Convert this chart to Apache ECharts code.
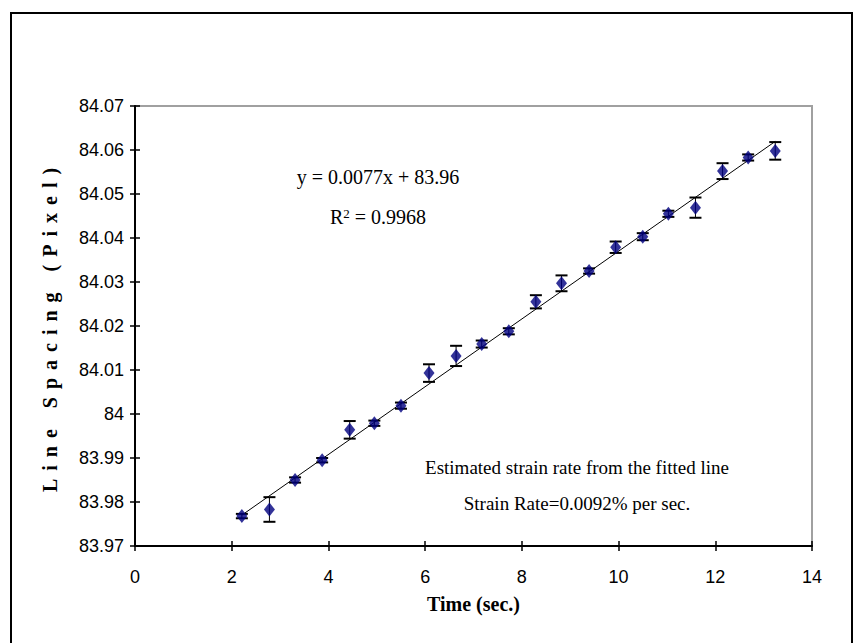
<!DOCTYPE html>
<html>
<head>
<meta charset="utf-8">
<title>Line Spacing vs Time</title>
<script src="https://cdn.jsdelivr.net/npm/echarts@6/dist/echarts.min.js"></script>
<style>
  html, body { margin: 0; padding: 0; background: #fff; }
  #chart { width: 858px; height: 643px; }
</style>
</head>
<body>
<div id="chart"></div>
<script>
// Measured line spacing over time, with error bar half-widths
const timeSec = [2.21, 2.78, 3.31, 3.87, 4.44, 4.95, 5.50, 6.08, 6.64, 7.17, 7.73,
                 8.29, 8.82, 9.39, 9.94, 10.50, 11.03, 11.59, 12.15, 12.68, 13.24];
const spacingPx = [83.9768, 83.9783, 83.9850, 83.9895, 83.9964, 83.9979, 84.0019, 84.0093,
                   84.0132, 84.0159, 84.0188, 84.0255, 84.0297, 84.0325, 84.0379, 84.0403,
                   84.0455, 84.0469, 84.0552, 84.0583, 84.0598];
const errorPx = [0.0005, 0.0028, 0.0006, 0.0005, 0.0020, 0.0006, 0.0007, 0.0020,
                 0.0023, 0.0008, 0.0007, 0.0015, 0.0018, 0.0006, 0.0013, 0.0008,
                 0.0007, 0.0023, 0.0018, 0.0007, 0.0020];

// Linear fit: y = 0.0077x + 83.96
const fitSlope = 0.0077;
const fitIntercept = 83.96;
const fitLabel = 'y = 0.0077x + 83.96';
const r2Label = '0.9968';
const noteLines = ['Estimated strain rate from the fitted line', 'Strain Rate=0.0092% per sec.'];
const xTitle = 'Time (sec.)';
const yTitle = 'Line Spacing (Pixel)';

const xTickInterval = 2;
const yTickInterval = 0.01;

const chart = echarts.init(document.getElementById('chart'), null, { renderer: 'svg' });

const tStart = timeSec[0];
const tEnd = timeSec[timeSec.length - 1];
const fitData = [[tStart, fitSlope * tStart + fitIntercept], [tEnd, fitSlope * tEnd + fitIntercept]];
const pointData = timeSec.map((t, i) => [t, spacingPx[i]]);
const errData = timeSec.map((t, i) => [t, spacingPx[i], errorPx[i]]);

const serif = 'Liberation Serif, serif';
const sans = 'Liberation Sans, sans-serif';

const baseX = { type: 'value', min: 0, max: 14, interval: xTickInterval, gridIndex: 0 };
const baseY = { type: 'value', min: 83.97, max: 84.07, interval: yTickInterval, gridIndex: 0 };

chart.setOption({
  animation: false,
  backgroundColor: '#fff',
  grid: {
    left: 135, right: 46, top: 106, bottom: 97,
    show: true, borderColor: '#a0a0a0', borderWidth: 2, backgroundColor: '#fff'
  },
  xAxis: [
    Object.assign({}, baseX, {
      position: 'bottom',
      axisLine: { show: true, lineStyle: { color: '#000', width: 2 } },
      axisTick: { show: true, inside: false, length: 5, lineStyle: { color: '#000', width: 1.5 } },
      axisLabel: { show: true, margin: 22, fontFamily: sans, fontSize: 18, color: '#000' },
      splitLine: { show: false },
      name: xTitle, nameLocation: 'middle', nameGap: 48,
      nameTextStyle: { fontFamily: serif, fontWeight: 'bold', fontSize: 20, color: '#000' }
    }),
    Object.assign({}, baseX, {
      position: 'bottom',
      axisLine: { show: false },
      axisTick: { show: true, inside: true, length: 5, lineStyle: { color: '#000', width: 1.5 } },
      axisLabel: { show: false },
      splitLine: { show: false }
    })
  ],
  yAxis: [
    Object.assign({}, baseY, {
      position: 'left',
      axisLine: { show: true, lineStyle: { color: '#000', width: 2 } },
      axisTick: { show: true, inside: false, length: 5, lineStyle: { color: '#000', width: 1.5 } },
      axisLabel: { show: true, margin: 11, fontFamily: sans, fontSize: 18, color: '#000' },
      splitLine: { show: false },
      name: yTitle, nameLocation: 'middle', nameGap: 75, nameRotate: 90,
      nameTextStyle: { fontFamily: serif, fontWeight: 'bold', fontSize: 20, color: '#000' }
    }),
    Object.assign({}, baseY, {
      position: 'left',
      axisLine: { show: false },
      axisTick: { show: true, inside: true, length: 5, lineStyle: { color: '#000', width: 1.5 } },
      axisLabel: { show: false },
      splitLine: { show: false }
    })
  ],
  series: [
    {
      name: 'fit',
      type: 'line',
      data: fitData,
      symbol: 'none',
      lineStyle: { color: '#000', width: 1 },
      z: 2
    },
    {
      name: 'error',
      type: 'custom',
      data: errData,
      encode: { x: 0, y: 1 },
      z: 3,
      renderItem: function (params, api) {
        const x = api.value(0), y = api.value(1), e = api.value(2);
        const top = api.coord([x, y + e]);
        const bot = api.coord([x, y - e]);
        const cap = 6;
        const style = { stroke: '#000', lineWidth: 1 };
        const capStyle = { stroke: '#000', lineWidth: 2 };
        return {
          type: 'group',
          children: [
            { type: 'line', shape: { x1: top[0], y1: top[1], x2: bot[0], y2: bot[1] }, style: style },
            { type: 'line', shape: { x1: top[0] - cap, y1: top[1], x2: top[0] + cap, y2: top[1] }, style: capStyle },
            { type: 'line', shape: { x1: bot[0] - cap, y1: bot[1], x2: bot[0] + cap, y2: bot[1] }, style: capStyle }
          ]
        };
      }
    },
    {
      name: 'spacing',
      type: 'scatter',
      data: pointData,
      symbol: 'diamond',
      symbolSize: [11, 14],
      itemStyle: { color: '#000080' },
      z: 4
    }
  ],
  graphic: [
    {
      type: 'rect',
      shape: { x: 11, y: 13, width: 841, height: 660 },
      style: { fill: 'none', stroke: '#000', lineWidth: 2 },
      z: 100
    },
    {
      type: 'text', x: 378, y: 177,
      style: { text: fitLabel, font: '20px ' + serif, fill: '#000', align: 'center', verticalAlign: 'middle' }
    },
    {
      type: 'text', x: 378, y: 217,
      style: {
        text: '{r|R}{s|2}{r| = ' + r2Label + '}',
        align: 'center', verticalAlign: 'middle',
        rich: {
          r: { fontFamily: serif, fontSize: 20, fill: '#000' },
          s: { fontFamily: serif, fontSize: 13, fill: '#000', verticalAlign: 'top', padding: [0, 0, 8, 0] }
        }
      }
    },
    {
      type: 'text', x: 577, y: 467,
      style: { text: noteLines[0], font: '19px ' + serif, fill: '#000', align: 'center', verticalAlign: 'middle' }
    },
    {
      type: 'text', x: 577, y: 503,
      style: { text: noteLines[1], font: '19px ' + serif, fill: '#000', align: 'center', verticalAlign: 'middle' }
    }
  ]
});

// The vertical axis title is typeset with open letter spacing
document.querySelectorAll('#chart svg text').forEach(function (node) {
  if (node.textContent === yTitle) {
    node.style.letterSpacing = '8px';
  }
});
</script>
</body>
</html>
